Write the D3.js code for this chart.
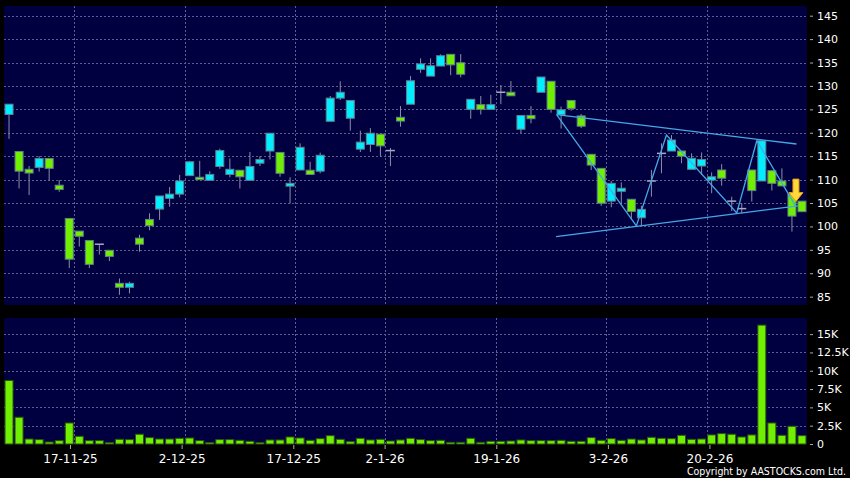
<!DOCTYPE html>
<html><head><meta charset="utf-8">
<script src="https://cdn.jsdelivr.net/npm/d3@7/dist/d3.min.js"></script>
<style>html,body{margin:0;padding:0;background:#000;} svg{display:block}</style>
</head><body><svg id="c" width="850" height="478"></svg>
<script>
// ---------- DATA ----------
const dates = ["7-11-25","10-11-25","11-11-25","12-11-25","13-11-25","14-11-25","17-11-25","18-11-25","19-11-25","20-11-25",
"21-11-25","24-11-25","25-11-25","26-11-25","27-11-25","28-11-25","1-12-25","2-12-25","3-12-25","4-12-25",
"5-12-25","8-12-25","9-12-25","10-12-25","11-12-25","12-12-25","15-12-25","16-12-25","17-12-25","18-12-25",
"19-12-25","22-12-25","23-12-25","24-12-25","29-12-25","30-12-25","31-12-25","2-1-26","5-1-26","6-1-26",
"7-1-26","8-1-26","9-1-26","12-1-26","13-1-26","14-1-26","15-1-26","16-1-26","19-1-26","20-1-26",
"21-1-26","22-1-26","23-1-26","26-1-26","27-1-26","28-1-26","29-1-26","30-1-26","2-2-26","3-2-26",
"4-2-26","5-2-26","6-2-26","9-2-26","10-2-26","11-2-26","12-2-26","13-2-26","16-2-26","20-2-26",
"23-2-26","24-2-26","25-2-26","26-2-26","27-2-26","2-3-26","3-3-26","4-3-26","5-3-26","6-3-26"];

const open  = [123.9,116.0,112.2,112.6,114.5,108.8,101.7,99.0,97.0,96.2,
94.9,87.85,87.0,97.5,101.5,103.7,106.0,106.9,110.85,110.5,
109.85,112.8,111.1,112.0,109.85,113.5,116.1,115.8,108.6,112.05,
112.0,111.8,122.45,127.4,123.1,116.5,117.5,119.7,116.2,123.3,
126.1,133.55,132.1,134.25,136.75,134.95,125.0,126.0,125.0,128.65,
128.65,120.75,123.7,128.65,131.0,123.9,126.9,123.6,115.4,112.4,
105.4,107.5,105.8,101.85,109.7,115.6,116.1,116.1,112.2,112.9,
109.9,112.05,105.4,103.8,112.05,109.7,111.9,109.7,106.9,105.4];
const high  = [126.1,116.0,112.9,115.0,114.6,109.9,101.7,99.0,97.0,96.2,
94.9,88.9,88.2,98.2,102.8,106.5,108.4,111.0,114.0,114.0,
111.8,116.6,114.5,112.0,115.9,115.0,119.9,115.8,110.5,117.75,
113.8,115.75,127.85,131.0,126.9,120.45,121.0,119.7,116.75,125.7,
132.1,135.9,135.9,136.75,136.75,136.8,127.15,127.85,128.1,130.2,
131.05,123.7,125.7,131.9,131.0,125.6,126.9,124.0,115.4,112.4,
109.7,109.4,105.8,104.4,112.05,117.75,119.5,116.1,115.6,115.8,
111.55,113.3,106.35,104.95,112.05,118.45,111.9,112.4,106.9,105.4];
const low   = [118.7,108.1,106.7,111.7,109.8,107.4,91.1,95.7,91.1,94.0,
92.6,85.4,85.7,94.6,99.2,101.4,104.2,106.2,110.8,110.0,
109.85,112.3,110.5,108.1,109.85,112.9,114.3,110.6,104.9,112.0,
111.1,111.35,122.45,127.0,120.45,115.9,115.9,114.9,112.9,121.3,
126.1,132.8,132.1,134.25,132.3,131.85,123.0,123.9,125.0,126.1,
127.9,119.9,122.0,128.65,124.3,120.9,124.7,121.0,112.05,104.4,
104.1,104.8,101.4,100.1,106.35,111.35,116.1,113.5,112.2,111.0,
107.1,108.7,103.3,102.8,105.3,109.7,107.65,108.65,98.9,103.15];
const close = [126.1,111.8,111.4,114.5,112.4,107.9,93.0,97.9,91.9,96.2,
93.6,87.0,87.85,96.2,100.15,106.5,106.9,109.7,113.8,110.0,
111.1,116.2,112.2,110.6,112.8,114.3,119.9,111.35,109.2,116.9,
111.1,115.2,127.4,128.65,126.9,118.0,119.9,117.2,116.2,122.5,
131.1,134.7,134.3,136.45,134.5,132.5,127.15,125.0,126.0,128.65,
127.9,123.7,123.0,131.9,125.0,124.9,125.2,121.4,113.1,104.95,
109.2,108.15,103.2,103.65,109.7,115.6,118.45,115.0,114.55,114.3,
110.6,110.3,105.4,103.8,107.65,118.3,109.2,108.65,102.2,103.15];
const volume = [8670,3650,680,600,270,460,2870,1050,460,460,
190,640,600,1330,870,680,680,780,820,460,
190,600,600,500,370,190,550,550,960,820,
500,730,1140,640,320,780,550,640,410,550,
780,600,460,500,230,230,780,230,370,370,
410,550,460,460,460,500,370,370,870,500,
730,500,680,550,910,780,730,1190,640,680,
1240,1420,1330,960,1240,16230,2870,1190,2420,1140];

const priceTicks  = [85,90,95,100,105,110,115,120,125,130,135,140,145];
const volumeTicks = [0,2500,5000,7500,10000,12500,15000];
const dateTicks   = ["17-11-25","2-12-25","17-12-25","2-1-26","19-1-26","3-2-26","20-2-26"];

// drawn trend lines: [candle index, price]
const upperLine = [[54.55,123.86],[78.45,117.6]];
const lowerLine = [[54.5,97.8],[78.6,104.4]];
const zigzag    = [[54.55,123.86],[62.5,100.1],[65.5,119.5],[72.5,102.9],[74.5,118.3],[78.35,104.4]];
const arrowMark = {index:78.4, top:110.1, tip:105.3};

// ---------- CHART ----------
const svg = d3.select("#c");
const W = 850, H = 478;
const left = 4, right = 807;
const pTop = 6, pBot = 305, vTop = 318, vBot = 444;
const N = dates.length;

const xb = d3.scaleBand().domain(d3.range(N)).range([left,right]).padding(0);
const xl = d3.scaleLinear().domain([-0.5, N-0.5]).range([left,right]);
const xt = d3.scaleLinear().domain([-0.5, N-0.5]).range([left,816]);
const cx = i => xb(i) + xb.bandwidth()/2;

const yP = d3.scaleLinear().domain([83.22,147.07]).range([pBot,pTop]);
const yV = d3.scaleLinear().domain([0,17200]).range([vBot,vTop]);

svg.append("rect").attr("width",W).attr("height",H).attr("fill","#000");
svg.append("rect").attr("x",left).attr("y",pTop).attr("width",right-left).attr("height",pBot-pTop).attr("fill","#000040");
svg.append("rect").attr("x",left).attr("y",vTop).attr("width",right-left).attr("height",vBot-vTop).attr("fill","#000040");

const gridCol = "#5c5c8e";
const tickIdx = dateTicks.map(d => dates.indexOf(d));

// horizontal grids
svg.append("g").selectAll("line").data(priceTicks).join("line")
  .attr("x1",left).attr("x2",right).attr("y1",d=>Math.round(yP(d))+0.5).attr("y2",d=>Math.round(yP(d))+0.5)
  .attr("stroke",gridCol).attr("stroke-dasharray","2,2");
svg.append("g").selectAll("line").data(volumeTicks.filter(v=>v>0)).join("line")
  .attr("x1",left).attr("x2",right).attr("y1",d=>Math.round(yV(d))+0.5).attr("y2",d=>Math.round(yV(d))+0.5)
  .attr("stroke",gridCol).attr("stroke-dasharray","2,2");
// vertical grids
[[pTop,pBot],[vTop,vBot]].forEach(([a,b])=>{
  svg.append("g").selectAll("line").data(tickIdx).join("line")
    .attr("x1",i=>Math.round(xb(i)+xb.bandwidth())+0.5).attr("x2",i=>Math.round(xb(i)+xb.bandwidth())+0.5)
    .attr("y1",a).attr("y2",b).attr("stroke",gridCol).attr("stroke-dasharray","2,2");
});

// right axes
const axisFont = "'DejaVu Sans', Verdana, sans-serif";
const yAxisP = d3.axisRight(yP).tickValues(priceTicks).tickSize(3).tickPadding(4);
const gp = svg.append("g").attr("transform",`translate(${right+3},0)`).call(yAxisP);
const yAxisV = d3.axisRight(yV).tickValues(volumeTicks).tickSize(3).tickPadding(4)
  .tickFormat(v => v===0 ? "0" : (v/1000)+"K");
const gv = svg.append("g").attr("transform",`translate(${right+3},0)`).call(yAxisV);
[gp,gv].forEach(g=>{
  g.select(".domain").remove();
  g.selectAll(".tick line").attr("stroke","#aaaaaa");
  g.selectAll(".tick text").attr("fill","#ffffff").attr("font-family",axisFont).attr("font-size","11px");
});

// bottom axis
const xAxis = d3.axisBottom(xt).tickValues(tickIdx).tickSize(4).tickPadding(5).tickFormat(i=>dates[i]);
const gx = svg.append("g").attr("transform",`translate(0,${vBot+1})`).call(xAxis);
gx.select(".domain").remove();
gx.selectAll(".tick line").attr("stroke","#aaaaaa");
gx.selectAll(".tick text").attr("fill","#ffffff").attr("font-family",axisFont).attr("font-size","12px");

// volume bars
svg.append("g").selectAll("rect").data(volume).join("rect")
  .attr("x",(d,i)=>cx(i)-4).attr("width",8)
  .attr("y",d=>yV(d)).attr("height",d=>Math.max(0.5,vBot-yV(d)))
  .attr("fill","#70f000").attr("stroke","#2c5410").attr("stroke-width",1);

// candles
const cyan = "#00eeff", green = "#70f000", wickCol = "#8e8ea8";
const cg = svg.append("g");
d3.range(N).forEach(i=>{
  const o=open[i], c=close[i], h=high[i], l=low[i];
  const x0 = cx(i);
  cg.append("line").attr("x1",x0).attr("x2",x0).attr("y1",yP(h)).attr("y2",yP(l))
    .attr("stroke",wickCol).attr("stroke-width",1);
  if (o===c){
    cg.append("line").attr("x1",x0-4.5).attr("x2",x0+4.5).attr("y1",yP(c)).attr("y2",yP(c))
      .attr("stroke","#a8a8c0").attr("stroke-width",1.5);
  } else {
    const top = yP(Math.max(o,c)), bot = yP(Math.min(o,c));
    cg.append("rect").attr("x",x0-4).attr("width",8).attr("y",top).attr("height",Math.max(1,bot-top))
      .attr("fill", c>o ? cyan : green).attr("stroke","#60808c").attr("stroke-width",1);
  }
});

// trend lines
const lineGen = d3.line().x(d=>xl(d[0])).y(d=>yP(d[1]));
[upperLine, lowerLine, zigzag].forEach(pts=>{
  svg.append("path").attr("d",lineGen(pts)).attr("fill","none")
    .attr("stroke","#45a8e6").attr("stroke-width",1.3);
});

// arrow
const ax = xl(arrowMark.index), ay0 = yP(arrowMark.top), ay1 = yP(arrowMark.tip);
const headH = 9, sw = 3, hw = 7;
svg.append("path")
  .attr("d",`M${ax-sw},${ay0} L${ax+sw},${ay0} L${ax+sw},${ay1-headH} L${ax+hw},${ay1-headH} L${ax},${ay1} L${ax-hw},${ay1-headH} L${ax-sw},${ay1-headH} Z`)
  .attr("fill","#ffd83a").attr("stroke","#e89a18").attr("stroke-width",1);

// copyright
svg.append("text").attr("x",846).attr("y",475).attr("text-anchor","end")
  .attr("fill","#ffffff").attr("font-family","'DejaVu Sans Condensed', 'DejaVu Sans', sans-serif")
  .attr("font-stretch","condensed").attr("font-size","10.5px").text("Copyright by AASTOCKS.com Ltd.");
</script>
</body></html>
